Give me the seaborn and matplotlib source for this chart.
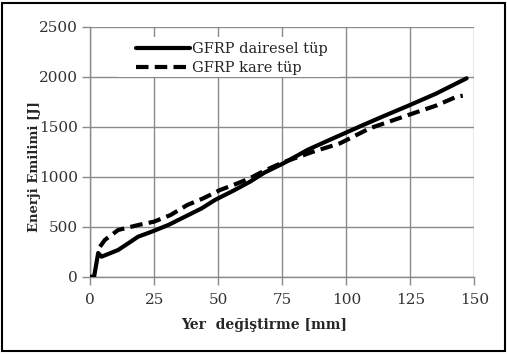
import matplotlib
matplotlib.use("Agg")
import matplotlib.pyplot as plt
import seaborn as sns
import pandas as pd
from matplotlib.patches import Rectangle

# --- data ---
x_circ = [0, 1.5, 3.1, 4.4, 10.9, 14.8, 18.7, 24.0, 30.5, 37.0, 43.5, 48.7, 55.9,
          62.4, 68.0, 75.4, 85.0, 94.9, 106.6, 115.0, 124.9, 135.0, 147.0]
y_circ = [0, 0, 237, 200, 267, 333, 400, 450, 517, 600, 683, 767, 860,
          950, 1040, 1133, 1270, 1384, 1517, 1610, 1717, 1830, 1984]
x_sq = [3.8, 5.7, 10.9, 18.8, 24.9, 31.4, 37.9, 44.1, 50.7, 55.9, 62.0, 68.0, 75.0,
        87.1, 97.5, 109.2, 126.2, 135.0, 143.1, 145.5]
y_sq = [300, 367, 467, 517, 550, 617, 717, 783, 867, 917, 980, 1060, 1140,
        1250, 1333, 1484, 1634, 1710, 1800, 1810]
series_names = ["GFRP dairesel tüp", "GFRP kare tüp"]
x_ticks = [0, 25, 50, 75, 100, 125, 150]
y_ticks = [0, 500, 1000, 1500, 2000, 2500]

df = pd.concat([
    pd.DataFrame({"x": x_circ, "y": y_circ, "s": series_names[0]}),
    pd.DataFrame({"x": x_sq, "y": y_sq, "s": series_names[1]}),
])

sns.set_style("white")
plt.rcParams["font.family"] = ["DejaVu Serif"]

fig = plt.figure(figsize=(5.07, 3.54), dpi=100)
ax = fig.add_axes([0.178, 0.2184, 0.7575, 0.7062])

sns.lineplot(data=df, x="x", y="y", hue="s", style="s",
             palette=["black", "black"], dashes=[(None, None), (3, 1.5)],
             linewidth=3, ax=ax, sort=False, estimator=None, legend=False, zorder=3)
lines = ax.get_lines()
lines[0].set_linestyle("-")
lines[1].set_linestyle((0, (3, 1.5)))

ax.set_xlim(0, 150)
ax.set_ylim(0, 2500)
ax.set_xticks(x_ticks)
ax.set_yticks(y_ticks)
ax.grid(True, color="#8a8a8a", linewidth=1.0)
for s in ["top", "right"]:
    ax.spines[s].set_visible(False)
for s in ["left", "bottom"]:
    ax.spines[s].set_color("#8a8a8a")
    ax.spines[s].set_linewidth(1.0)
ax.tick_params(axis="both", which="both", length=6, width=1, color="#8a8a8a",
               labelsize=11, labelcolor="#333333", direction="out")
ax.tick_params(axis="y", left=True, pad=3)
ax.tick_params(axis="x", bottom=True, pad=6)

ax.set_xlabel("Yer  değiştirme [mm]", fontsize=10, fontweight="bold")
ax.set_ylabel("Enerji Emilimi [J]", fontsize=9.5, fontweight="bold")
ax.xaxis.set_label_coords(0.4536, -0.165)
ax.yaxis.set_label_coords(-0.128, 0.44)

# white legend box
ax.add_patch(Rectangle((0.0695, 0.80), 0.58, 0.16, transform=ax.transAxes,
                       facecolor="white", edgecolor="none", zorder=2.5))
leg = ax.legend(lines, series_names, loc="upper left", bbox_to_anchor=(0.12, 0.937),
                frameon=False, fontsize=10.5, handlelength=3.7, handletextpad=0.1,
                borderpad=0.0, labelspacing=0.3, borderaxespad=0)

fig.patches.append(Rectangle((0.004, 0.008), 0.992, 0.984, transform=fig.transFigure,
                             fill=False, edgecolor="black", linewidth=1.5))

fig.savefig("out.png", dpi=100)
